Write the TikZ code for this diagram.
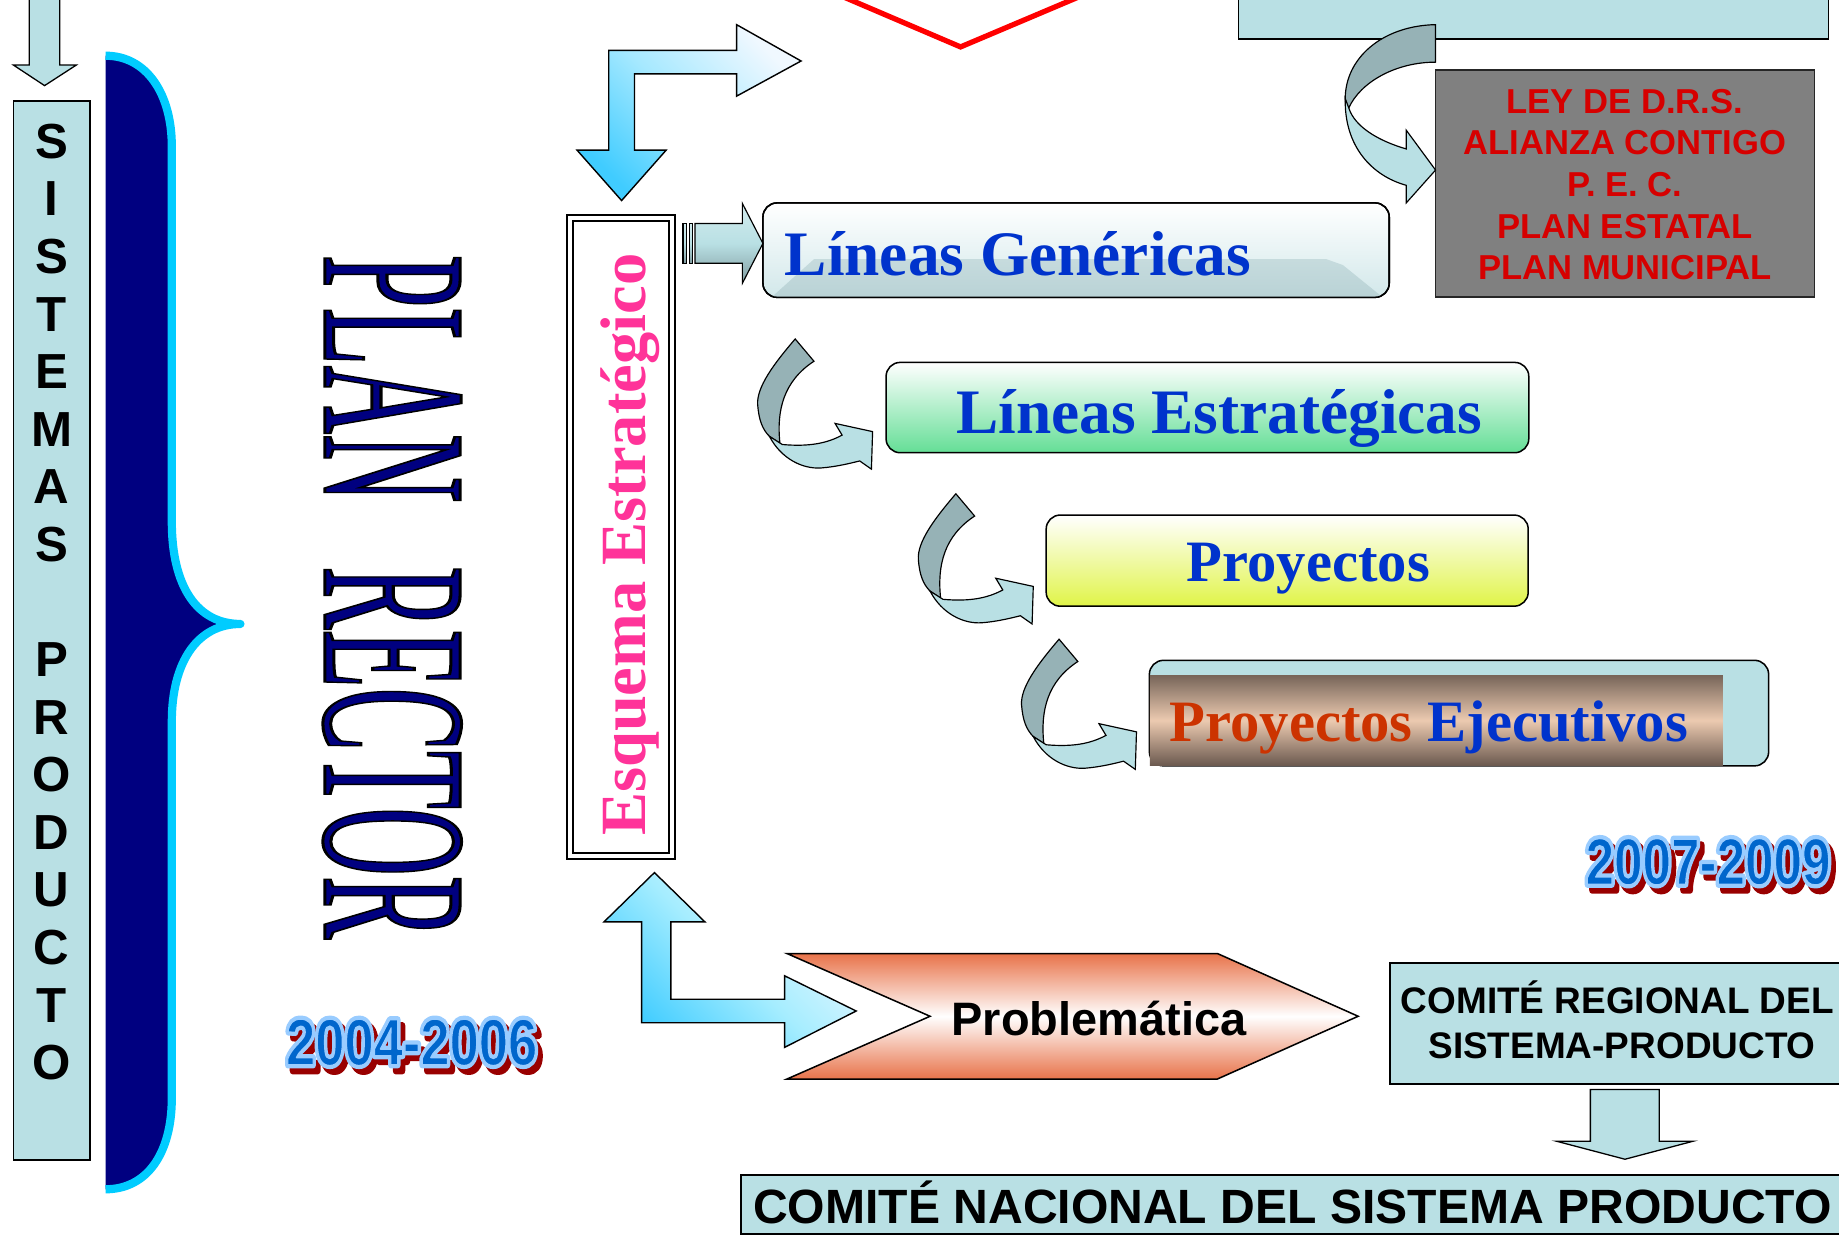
\documentclass[tikz,border=0pt]{standalone}
\usepackage{fontspec}
\setmainfont{Liberation Serif}
\setsansfont{Liberation Sans}
\definecolor{lteal}{RGB}{185,224,228}
\definecolor{dteal}{RGB}{150,178,182}
\definecolor{navyb}{RGB}{0,0,128}
\definecolor{cyanb}{RGB}{0,204,255}
\definecolor{tblue}{RGB}{0,51,204}
\definecolor{pinkt}{RGB}{255,51,153}
\definecolor{leyred}{RGB}{214,0,0}
\definecolor{leygray}{RGB}{128,128,128}
\definecolor{orgt}{RGB}{204,51,0}
\definecolor{ybase}{RGB}{0,102,204}
\definecolor{ylight}{RGB}{153,204,255}
\definecolor{yshadow}{RGB}{153,0,0}
\definecolor{probor}{RGB}{232,115,74}
\definecolor{greenb}{RGB}{100,222,150}
\definecolor{yellowb}{RGB}{224,244,72}
\definecolor{browna}{RGB}{120,102,90}
\definecolor{brownb}{RGB}{108,90,80}
\definecolor{peach}{RGB}{236,202,176}
\definecolor{brightc}{RGB}{64,204,255}
\definecolor{blight}{RGB}{240,248,255}
\definecolor{glossa}{RGB}{210,232,234}
\definecolor{glossb}{RGB}{184,210,213}
\definecolor{arrtop}{RGB}{210,235,237}
\definecolor{arrbot}{RGB}{128,156,160}
\newcommand\ov[3]{\makebox[0pt][l]{\hspace*{#1}\raisebox{#2}{#3}}}
\newcommand\trmode[1]{\special{pdf:literal direct #1}}
\newcommand\yearart[1]{%
\ov{5pt}{-5pt}{\color{yshadow}\trmode{2 Tr 6 w 1 j}#1\trmode{0 Tr}}%
\ov{0pt}{0pt}{\color{ylight}\trmode{2 Tr 6 w 1 j}#1\trmode{0 Tr}}%
{\color{ybase}\trmode{2 Tr 1.2 w 0.6 0.8 1 RG}#1\trmode{0 Tr}}}
\newcommand\curvarrow{%
\filldraw[ribdark] (0,0) .. controls (-18,21) and (-33,41) .. (-32,56) .. controls (-31,69) and (-28,77) .. (-22,83) -- (-13,89) .. controls (-16,61) and (-10,36) .. (16,19) -- cycle;
\filldraw[riblight] (-22,83) .. controls (-12,102) and (6,111) .. (22,110) .. controls (35,109) and (47,106) .. (55,104) -- (65,111) -- (66,79) -- (34,72) -- (40,82) .. controls (27,89) and (12,92) .. (-11,90) -- cycle;}
\tikzset{
  tealbox/.style={draw=black, line width=1.5pt, fill=lteal, inner sep=0pt, outer sep=0pt},
  rbox/.style={draw=black, line width=1.3pt, rounded corners=12pt, inner sep=0pt, outer sep=0pt},
  ribdark/.style={fill=dteal, draw=black, line width=1pt},
  riblight/.style={fill=lteal, draw=black, line width=1pt},
  blkarrow/.style={draw=black, line width=1.2pt},
  sistl/.style={anchor=base, inner sep=0pt, font=\sffamily\bfseries\fontsize{42}{42}\selectfont},
  leyl/.style={anchor=base, inner sep=0pt, text=leyred, font=\sffamily\bfseries\fontsize{29.5}{29.5}\selectfont},
  titl/.style={anchor=base, inner sep=0pt, text=tblue, font=\bfseries\fontsize{54}{54}\selectfont},
  projl/.style={anchor=base, inner sep=0pt, text=tblue, font=\bfseries\fontsize{50}{50}\selectfont},
  arl/.style={anchor=base, inner sep=0pt, font=\sffamily\bfseries},
}
\begin{document}
\begin{tikzpicture}[x=1pt,y=-1pt,line join=miter]
\useasboundingbox (0,0) rectangle (1568,1053);
\fill[white] (0,0) rectangle (1568,1053);

% red V at top
\coordinate (v1) at (716,-4);
\coordinate (v2) at (819,40);
\coordinate (v3) at (923,-4);
\draw[red, line width=4.5pt] (v1) -- (v2) -- (v3);

% top right teal box
\node[tealbox, minimum width=503pt, minimum height=46pt] (topbox) at (1307.5,10.5) {};

% top-left small arrow
\filldraw[fill=lteal, draw=black, line width=1.1pt] (25,-3) -- (51,-3) -- (51,55.5) -- (65,55.5) -- (38,73) -- (11.5,55.5) -- (25,55.5) -- cycle;

% SISTEMAS PRODUCTO column
\node[tealbox, minimum width=65.5pt, minimum height=903pt] (sist) at (44.2,537.5) {};
\foreach \ch [count=\i from 0] in {S,I,S,T,E,M,A,S}
  \node[sistl] (sa\i) at (44,{135+\i*49.1}) {\ch};
\foreach \ch [count=\i from 0] in {P,R,O,D,U,C,T,O}
  \node[sistl] (sb\i) at (44,{576.9+\i*49.1}) {\ch};

% brace
\fill[navyb] (90,47.5) .. controls (125,47.5) and (146.5,80) .. (146.5,125) -- (146.5,445) .. controls (146.5,500) and (168,532) .. (205,532) .. controls (168,532) and (146.5,565) .. (146.5,615) -- (146.5,936) .. controls (146.5,984) and (125,1014) .. (90,1014) -- cycle;
\draw[cyanb, line width=7pt, line join=round] (90,47.5) .. controls (125,47.5) and (146.5,80) .. (146.5,125) -- (146.5,445) .. controls (146.5,500) and (168,532) .. (205,532) .. controls (168,532) and (146.5,565) .. (146.5,615) -- (146.5,936) .. controls (146.5,984) and (125,1014) .. (90,1014);

% PLAN RECTOR
\node[rotate=-90, anchor=base, inner sep=0pt] (plan) at (277,509) {\scalebox{0.46}[1]{\fontsize{176}{176}\selectfont{\color{navyb}\trmode{2 Tr 2.6 w 0 0 0 RG}PLAN\hspace{118pt}RECTOR\trmode{0 Tr}}}};

% years
\node[anchor=base, inner sep=0pt] (y1) at (351,908) {\scalebox{0.8}[1]{\sffamily\bfseries\fontsize{56}{56}\selectfont\yearart{2004-2006}}};
\node[anchor=base east, inner sep=0pt] (y2) at (1561,754) {\scalebox{0.78}[1]{\sffamily\bfseries\fontsize{56}{56}\selectfont\yearart{2007-2009}}};

% Esquema Estrategico
\node[draw=black, line width=1.4pt, double, double distance=3.6pt, minimum width=87pt, minimum height=544pt, inner sep=0pt] (esq) at (529.5,458) {};
\node[rotate=90, anchor=base, inner sep=0pt, text=pinkt, font=\bfseries\fontsize{55}{55}\selectfont] (esqt) at (550,464.5) {Esquema Estratégico};

% top bent double arrow
\path[blkarrow, top color=blight, bottom color=brightc, middle color=blue!25!cyan!35, shading angle=-45]
 (530,171) -- (568,128) -- (541,128) -- (541,63) -- (628,63) -- (628,82) -- (683,52) -- (628,21) -- (628,43) -- (519,43) -- (519,128) -- (492,128) -- cycle;

% bottom bent double arrow
\path[blkarrow, top color=blight, bottom color=brightc, middle color=blue!20!cyan!35, shading angle=-45]
 (558,744) -- (601,786) -- (572,786) -- (572,852) -- (669,852) -- (669,832) -- (730,862) -- (669,893) -- (669,872) -- (547,872) -- (547,786) -- (515,786) -- cycle;

% Lineas Genericas box
\node[rbox, top color=white, bottom color=glossa, minimum width=534pt, minimum height=80.5pt] (lg) at (917.5,213.25) {};
\begin{scope}
\clip[rounded corners=12pt] (650.5,173) rectangle (1184.5,253.5);
\shade[top color=glossb!80!white, bottom color=glossb] (655,256) -- (694,221) -- (1131,221) -- (1145,226) -- (1182,256) -- cycle;
\end{scope}
\draw[line width=1.3pt, rounded corners=12pt] (lg.south west) rectangle (lg.north east);
\node[titl, anchor=base west] (lgt) at (669,234.5) {Líneas Genéricas};

% arrow esquema -> lineas genericas
\path[draw=black, line width=1pt, top color=arrtop, bottom color=arrbot, middle color=lteal] (592.6,190.5) -- (633,190.5) -- (633,173.5) -- (650.5,207.5) -- (633,241.5) -- (633,224.5) -- (592.6,224.5) -- cycle;
\path[draw=black, line width=1pt, top color=arrtop, bottom color=arrbot, middle color=lteal] (582.4,190.5) rectangle (585.5,224.5);
\path[draw=black, line width=1pt, top color=arrtop, bottom color=arrbot, middle color=lteal] (587.7,190.5) rectangle (590.5,224.5);

% Lineas Estrategicas
\node[rbox, top color=white, bottom color=greenb, minimum width=548pt, minimum height=77pt] (le) at (1029.5,347.5) {};
\node[titl] (let) at (1039.5,369.5) {Líneas Estratégicas};

% Proyectos
\node[rbox, top color=white, bottom color=yellowb, minimum width=411pt, minimum height=77.7pt] (pr) at (1097.5,478) {};
\node[projl] (prt) at (1115.5,496) {Proyectos};

% Proyectos Ejecutivos
\node[rbox, fill=lteal, minimum width=528pt, minimum height=90pt] (pe) at (1244,608) {};
\shade[top color=browna, bottom color=brownb, middle color=peach] (980.5,576) rectangle (1469,652.3);
\node[projl, anchor=base west] (pet) at (997,632.5) {\textcolor{orgt}{Proyectos} Ejecutivos};

% curved arrows
\begin{scope}[shift={(678,289)}] \curvarrow \end{scope}
\begin{scope}[shift={(815,421)}] \curvarrow \end{scope}
\begin{scope}[shift={(903,545)}] \curvarrow \end{scope}

% LEY box
\node[draw=black!85, line width=1.5pt, fill=leygray, minimum width=323pt, minimum height=193pt, inner sep=0pt] (ley) at (1385.5,156.5) {};
\node[leyl] (ley1) at (1385.5,96.6) {LEY DE D.R.S.};
\node[leyl] (ley2) at (1385.5,132.1) {ALIANZA CONTIGO};
\node[leyl] (ley3) at (1385.5,167.6) {P. E. C.};
\node[leyl] (ley4) at (1385.5,203.1) {PLAN ESTATAL};
\node[leyl] (ley5) at (1385.5,238.6) {PLAN MUNICIPAL};

% ribbon arrow from top box to LEY
\filldraw[ribdark] (1224,21) .. controls (1178,22) and (1147,50) .. (1147,84) .. controls (1147,88) and (1148,90) .. (1150,92) .. controls (1160,70) and (1190,53) .. (1224,53) -- cycle;
\filldraw[riblight] (1147,84) .. controls (1146,125) and (1170,150) .. (1199,158) -- (1199,173) -- (1224,145) -- (1199,111) -- (1199,127) .. controls (1175,120) and (1155,108) .. (1150,92) -- cycle;

% Problematica chevron
\path[draw=black, line width=1.3pt, top color=probor, bottom color=probor, middle color=white]
 (671,813) -- (1038,813) -- (1158,866.5) -- (1038,920) -- (671,920) -- (793,866.5) -- cycle;
\node[arl, font=\sffamily\bfseries\fontsize{40}{40}\selectfont] (prob) at (937,882.5) {Problemática};

% Comite regional
\node[tealbox, minimum width=392pt, minimum height=103pt] (creg) at (1381,872.5) {};
\node[arl, font=\sffamily\bfseries\fontsize{31.5}{31.5}\selectfont] (creg1) at (1379,864) {COMITÉ REGIONAL DEL};
\node[arl, font=\sffamily\bfseries\fontsize{31.5}{31.5}\selectfont] (creg2) at (1383,902.3) {SISTEMA-PRODUCTO};

% arrow down
\filldraw[fill=lteal, draw=black, line width=1.1pt] (1356,929) -- (1414.7,929) -- (1414.7,973) -- (1443.7,973) -- (1385.5,988.4) -- (1327,973) -- (1356,973) -- cycle;

% Comite nacional
\node[tealbox, minimum width=946pt, minimum height=50pt] (cnac) at (1105,1027) {};
\node[arl, font=\sffamily\bfseries\fontsize{41}{41}\selectfont] (cnact) at (1102,1043) {COMITÉ NACIONAL DEL SISTEMA PRODUCTO};
\end{tikzpicture}
\end{document}
